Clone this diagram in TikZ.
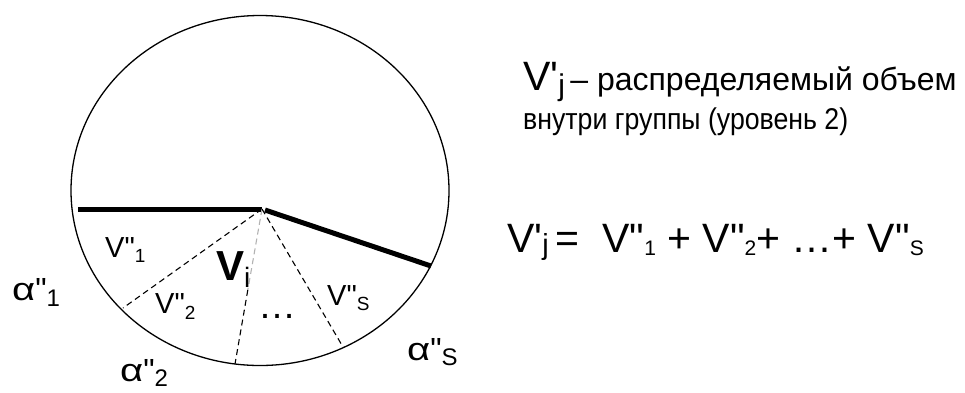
\documentclass[tikz,border=0pt]{standalone}
\usepackage{fontspec}
\usetikzlibrary{shapes.geometric,calc}
\newfontfamily\af{Liberation Sans}
\newcommand\fs[1]{\fontsize{#1}{#1}\selectfont}
\newcommand\sublow[3]{\raisebox{-#1pt}{\fs{#2}#3}}
\newcommand\alf{\scalebox{1.25}[1]{α}}
\begin{document}
\begin{tikzpicture}[x=1pt,y=-1pt,
  thickline/.style={line width=5pt,line cap=butt},
  dashline/.style={line width=1.1pt,dash pattern=on 6pt off 4pt},
  lbl/.style={anchor=base west,inner sep=0pt,font=\af}]
\useasboundingbox (0,0) rectangle (965,392);
% circle
\node[draw,line width=1.3pt,ellipse,minimum width=378pt,minimum height=350pt,inner sep=0pt] (circ) at (260,190.5) {};
\coordinate (c) at (262,209);
\coordinate (l) at (78,209);
\coordinate (r) at (431,266);
\coordinate (d1) at (123,308);
\coordinate (dm) at (247.8,290);
\coordinate (d2) at (235,364);
\coordinate (d3) at (343,347);
\draw[thickline] (l) -- (c);
\draw[thickline] ($(c)+(3,1)$) -- (r);
\draw[dashline] (c) -- (d1);
\draw[dashline,gray!60] (c) -- (dm);
\draw[dashline] (dm) -- (d2);
\draw[dashline] (c) -- (d3);
% labels in circle
\node[lbl] (v1) at (105,257) {\fs{29}V"\sublow{5}{19}{1}};
\node[lbl] (vi) at (216,280) {\fs{42}\bfseries V\sublow{7}{28}{\mdseries i}};
\node[lbl] (v2) at (155,313) {\fs{29}V"\sublow{6}{19}{2}};
\node[lbl] (dots) at (258,318) {\fs{38}…};
\node[lbl] (vs) at (327,305) {\fs{29}V"\sublow{5}{19}{S}};
% alpha labels
\node[lbl] (a1) at (12,300) {\fs{32}\alf"\sublow{6}{24}{1}};
\node[lbl] (a2) at (120,381) {\fs{32}\alf"\sublow{5}{24}{2}};
\node[lbl] (as) at (407,360) {\fs{32}\alf"\sublow{5}{24}{S}};
% description
\node[lbl] (d1t) at (523,90) {\fs{41}V'\sublow{5}{30}{j}\fs{32}\,– распределяемый объем};
\node[lbl] (d2t) at (523,129) {\scalebox{0.89}[1]{\fs{30}внутри группы (уровень 2)}};
% equation
\node[lbl] (eq) at (507,252) {\fs{41}V'\sublow{2}{29}{j}\,=\ \ V"\sublow{3}{21}{1}\ +\ V"\sublow{3}{21}{2}+\ …+\ V"\sublow{3}{21}{S}};
\end{tikzpicture}
\end{document}
